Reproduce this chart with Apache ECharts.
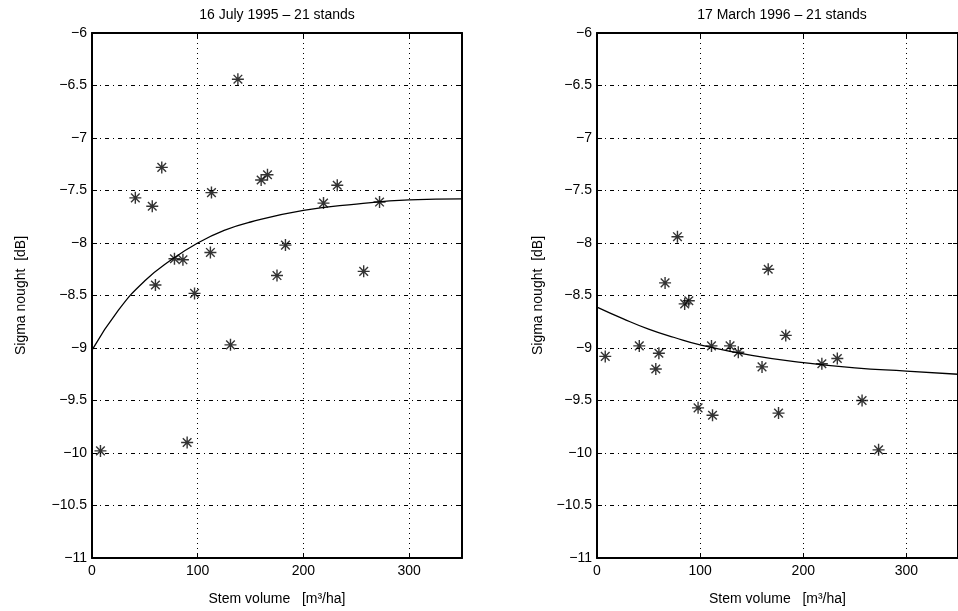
<!DOCTYPE html>
<html>
<head>
<meta charset="utf-8">
<script src="https://cdn.jsdelivr.net/npm/echarts@6/dist/echarts.min.js"></script>
<style>
  html, body { margin: 0; padding: 0; background: #fff; }
  #chart { width: 958px; height: 611px; }
</style>
</head>
<body>
<div id="chart"></div>
<script>
"use strict";

// left panel: 16 July 1995
var julyVolume = [138, 66, 41, 57, 113, 160, 166, 232, 219, 272, 78, 86, 112, 183, 175, 257, 60, 97, 131, 90, 8];
var julySigma = [-6.44, -7.28, -7.57, -7.65, -7.52, -7.40, -7.35, -7.45, -7.62, -7.61, -8.15, -8.16, -8.09, -8.02, -8.31, -8.27, -8.40, -8.48, -8.97, -9.90, -9.98];
var julyFitX = [0, 25, 50, 75, 100, 125, 150, 200, 250, 300, 350];
var julyFitY = [-9.02, -8.64, -8.36, -8.16, -8.00, -7.88, -7.80, -7.69, -7.63, -7.59, -7.58];

// right panel: 17 March 1996
var marchVolume = [78, 166, 66, 85, 89, 183, 41, 111, 129, 137, 60, 8, 57, 160, 218, 233, 98, 112, 176, 257, 273];
var marchSigma = [-7.94, -8.25, -8.38, -8.58, -8.55, -8.88, -8.98, -8.98, -8.98, -9.04, -9.05, -9.08, -9.20, -9.18, -9.15, -9.10, -9.57, -9.64, -9.62, -9.50, -9.97];
var marchFitX = [0, 25, 50, 75, 100, 150, 200, 250, 300, 350];
var marchFitY = [-8.61, -8.72, -8.82, -8.90, -8.97, -9.07, -9.14, -9.19, -9.22, -9.25];

var titles = ['16 July 1995 \u2013 21 stands', '17 March 1996 \u2013 21 stands'];
var xName = 'Stem volume   [m\u00b3/ha]';
var yName = 'Sigma nought  [dB]';

var FONT = 'Liberation Sans, Arial, Helvetica, sans-serif';
var STAR = 'path://M0,-5L0,5M-5,0L5,0M-3.6,-3.6L3.6,3.6M-3.6,3.6L3.6,-3.6';

function pairs(xs, ys) {
	var out = [];
	for (var i = 0; i < xs.length; i++) {
		out.push([xs[i], ys[i]]);
	}
	return out;
}

function minusLabel(v) {
	return v < 0 ? '\u2212' + Math.abs(v) : String(v);
}

function xAxisFor(gridIndex, pos) {
	var main = pos === 'bottom';
	return {
		gridIndex: gridIndex, type: 'value', position: pos,
		min: 0, max: 350, interval: 100,
		name: main ? xName : '', nameLocation: 'middle', nameGap: 34,
		nameTextStyle: { color: '#000', fontSize: 14, fontFamily: FONT },
		axisLine: { show: true, onZero: false, lineStyle: { color: '#000', width: 2 } },
		axisTick: { show: true, inside: true, length: 5, lineStyle: { color: '#000' } },
		axisLabel: { show: main, color: '#000', fontSize: 14, fontFamily: FONT, margin: 6, showMaxLabel: false },
		splitLine: { show: main, lineStyle: { color: '#000', width: 1, type: [1, 4] } },
		z: 5
	};
}

function yAxisFor(gridIndex, pos, gap) {
	var main = pos === 'left';
	return {
		gridIndex: gridIndex, type: 'value', position: pos,
		min: -11, max: -6, interval: 0.5,
		name: main ? yName : '', nameLocation: 'middle', nameGap: gap, nameRotate: 90,
		nameTextStyle: { color: '#000', fontSize: 14, fontFamily: FONT },
		axisLine: { show: true, onZero: false, lineStyle: { color: '#000', width: 2 } },
		axisTick: { show: true, inside: true, length: 5, lineStyle: { color: '#000' } },
		axisLabel: { show: main, color: '#000', fontSize: 14, fontFamily: FONT, margin: 5, formatter: minusLabel },
		splitLine: { show: main, lineStyle: { color: '#000', width: 1, type: [4, 4, 1, 4] } },
		z: 5
	};
}

function scatterSeries(idx, data) {
	return {
		type: 'scatter', xAxisIndex: idx * 2, yAxisIndex: idx * 2,
		data: data, symbol: STAR, symbolSize: 12,
		itemStyle: { color: 'none', borderColor: '#000', borderWidth: 1.4 },
		emphasis: { disabled: true }, z: 3
	};
}

function fitSeries(idx, data) {
	return {
		type: 'line', xAxisIndex: idx * 2, yAxisIndex: idx * 2,
		data: data, smooth: true, showSymbol: false,
		lineStyle: { color: '#000', width: 1.3 }, z: 2
	};
}

var chart = echarts.init(document.getElementById('chart'), null, { renderer: 'canvas' });

chart.setOption({
	backgroundColor: '#fff',
	animation: false,
	graphic: [
		{ type: 'text', x: 277, y: 15, style: { text: titles[0], textAlign: 'center', textVerticalAlign: 'middle', fill: '#000', font: '14px ' + FONT } },
		{ type: 'text', x: 782, y: 15, style: { text: titles[1], textAlign: 'center', textVerticalAlign: 'middle', fill: '#000', font: '14px ' + FONT } }
	],
	grid: [
		{ left: 92, top: 33, width: 370, height: 533 },
		{ left: 597, top: 33, width: 369, height: 533 }
	],
	xAxis: [
		xAxisFor(0, 'bottom'), xAxisFor(0, 'top'),
		xAxisFor(1, 'bottom'), xAxisFor(1, 'top')
	],
	yAxis: [
		yAxisFor(0, 'left', 64), yAxisFor(0, 'right', 0),
		yAxisFor(1, 'left', 52), yAxisFor(1, 'right', 0)
	],
	series: [
		fitSeries(0, pairs(julyFitX, julyFitY)),
		scatterSeries(0, pairs(julyVolume, julySigma)),
		fitSeries(1, pairs(marchFitX, marchFitY)),
		scatterSeries(1, pairs(marchVolume, marchSigma))
	]
});
</script>
</body>
</html>
